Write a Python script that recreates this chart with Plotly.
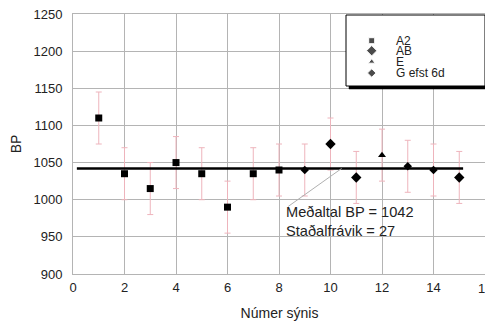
import plotly.graph_objects as go

# ---- data ----
a2_x = [1, 2, 3, 4, 5, 6, 7, 8]
a2_y = [1110, 1035, 1015, 1050, 1035, 990, 1035, 1040]
ab_x = [10, 11, 15]
ab_y = [1075, 1030, 1030]
e_x = [12]
e_y = [1060]
g_x = [9, 13, 14]
g_y = [1040, 1045, 1040]
err = 35
mean_bp = 1042
std_bp = 27
mean_line_x = [0.15, 15.15]
series_names = ["A2", "AB", "E", "G efst 6d"]
x_ticks = [0, 2, 4, 6, 8, 10, 12, 14, 16]
y_ticks = [900, 950, 1000, 1050, 1100, 1150, 1200, 1250]

FONT = "Liberation Sans, Arial, sans-serif"
ERR_COLOR = "#eeb4bc"
GRID = "#b4b4b4"

# layout geometry (page pixels); page body has an 8px default margin
OFF = 8
W, H = 493 - OFF, 321 - OFF
ML, MR, MT, MB = 73 - OFF, 2, 14 - OFF, 47
PW = W - ML - MR          # paper width
X_MAX = 16.04             # tiny headroom at the right end
PLOT_W = 412 * X_MAX / 16 # main plot width in px (0..16 spans 412 px)
plot_h = H - MT - MB

fig = go.Figure()

def add_series(xs, ys, symbol, size, name):
    fig.add_trace(go.Scatter(
        x=xs, y=ys, mode="markers", name=name,
        marker=dict(symbol=symbol, size=size, color="black"),
        error_y=dict(type="constant", value=err, color=ERR_COLOR,
                     thickness=1, width=3),
        showlegend=False,
    ))

add_series(a2_x, a2_y, "square", 7, series_names[0])
add_series(ab_x, ab_y, "diamond", 8, series_names[1])
add_series(e_x, e_y, "triangle-up", 7, series_names[2])
add_series(g_x, g_y, "diamond", 6.5, series_names[3])

fig.add_trace(go.Scatter(
    x=mean_line_x, y=[mean_bp, mean_bp], mode="lines",
    line=dict(color="black", width=2.5), showlegend=False, hoverinfo="skip",
))

# ---- manual legend drawn in its own small subplot (page-pixel coordinates) ----
LX0, LX1 = 343, 490
LY0, LY1 = 14, 90
box = dict(x0=346, x1=485, y0=15, y1=86)
so = 3
fig.add_trace(go.Scatter(
    x=[box["x0"] + so, box["x1"] + so, box["x1"] + so, box["x0"] + so, box["x0"] + so],
    y=[box["y0"] + so, box["y0"] + so, box["y1"] + so, box["y1"] + so, box["y0"] + so],
    xaxis="x2", yaxis="y2", mode="lines", fill="toself", fillcolor="black",
    line=dict(color="black", width=0.5), showlegend=False, hoverinfo="skip",
))
fig.add_trace(go.Scatter(
    x=[box["x0"], box["x1"], box["x1"], box["x0"], box["x0"]],
    y=[box["y0"], box["y0"], box["y1"], box["y1"], box["y0"]],
    xaxis="x2", yaxis="y2", mode="lines", fill="toself", fillcolor="white",
    line=dict(color="black", width=1), showlegend=False, hoverinfo="skip",
))
leg_rows = [40.7, 50.7, 61.7, 73.0]
leg_syms = ["square", "diamond", "triangle-up", "diamond"]
leg_sizes = [6, 8, 6, 6.5]
fig.add_trace(go.Scatter(
    x=[371.7] * 4, y=leg_rows, mode="markers", xaxis="x2", yaxis="y2",
    marker=dict(symbol=leg_syms, size=leg_sizes, color="black"),
    showlegend=False, hoverinfo="skip", cliponaxis=False,
))
for name, yy in zip(series_names, leg_rows):
    fig.add_annotation(text=name, xref="x2", yref="y2", x=394, y=yy,
                       xanchor="left", yanchor="middle", showarrow=False,
                       font=dict(family=FONT, size=12, color="#222"))

# ---- mean/std annotation with leader line ----
fig.add_shape(type="line", xref="x", yref="y", layer="above",
              x0=8.36, y0=991, x1=10.43, y1=mean_bp,
              line=dict(color="#b0b0b0", width=1))
fig.add_annotation(
    text=f"Meðaltal BP = {mean_bp}<br>Staðalfrávik = {std_bp}",
    xref="x", yref="y", x=8.2, y=970.5, xanchor="left", yanchor="middle",
    align="left", showarrow=False,
    font=dict(family=FONT, size=14.6, color="#222"),
)

# last x tick label placed explicitly at its tick (paper fraction of that tick)
x_ticktext = [str(v) for v in x_ticks[:-1]] + [""]
last_frac = (x_ticks[-1] / X_MAX) * PLOT_W / PW
fig.add_annotation(text=str(x_ticks[-1]), xref="paper", yref="paper",
                   x=last_frac, y=0, xanchor="center", yanchor="middle",
                   yshift=-14.5, showarrow=False,
                   font=dict(family=FONT, size=13, color="#222"))

fig.update_layout(
    width=W, height=H,
    margin=dict(l=ML, r=MR, t=MT, b=MB, autoexpand=False),
    paper_bgcolor="white", plot_bgcolor="rgba(0,0,0,0)",
    font=dict(family=FONT, size=13, color="#222"),
    showlegend=False,
    xaxis=dict(domain=[0, PLOT_W / PW], range=[0, X_MAX], tickvals=x_ticks,
               ticktext=x_ticktext,
               showgrid=True, gridcolor=GRID, gridwidth=1, zeroline=False,
               showline=True, linecolor=GRID, mirror=True, ticks="",
               ticklabelstandoff=1, anchor="y", ticklabeloverflow="allow",
               title=dict(text="Númer sýnis", font=dict(size=14), standoff=16)),
    yaxis=dict(domain=[0, 1], range=[900, 1250], tickvals=y_ticks,
               showgrid=True, gridcolor=GRID, gridwidth=1, zeroline=False,
               showline=True, linecolor=GRID, mirror=True, ticks="",
               ticklabelstandoff=7, anchor="x", ticklabeloverflow="allow",
               title=dict(text="BP", font=dict(size=14), standoff=12)),
    xaxis2=dict(domain=[(LX0 - 73) / PW, (LX1 - 73) / PW], range=[LX0, LX1],
                anchor="y2", visible=False, fixedrange=True),
    yaxis2=dict(domain=[1 - (LY1 - 14) / plot_h, 1 - (LY0 - 14) / plot_h],
                range=[LY1, LY0], anchor="x2", visible=False, fixedrange=True),
)

fig.write_html("out.html")
